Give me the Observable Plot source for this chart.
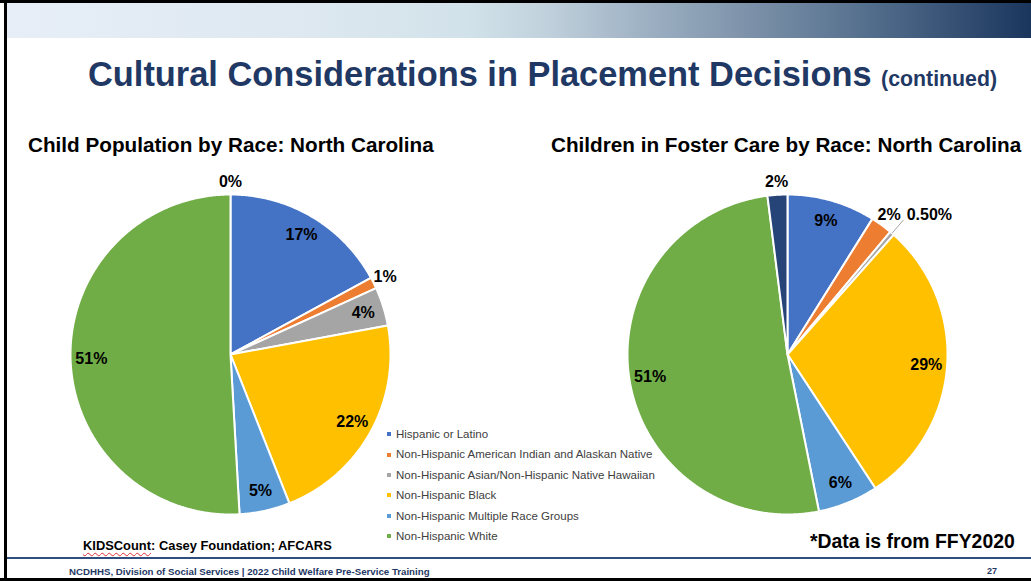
<!DOCTYPE html>
<html>
<head>
<meta charset="utf-8">
<script src="https://cdn.jsdelivr.net/npm/d3@7"></script>
<script src="https://cdn.jsdelivr.net/npm/@observablehq/plot@0.6"></script>
<style>
  html, body { margin: 0; padding: 0; background: #fff; }
  body { width: 1031px; height: 581px; position: relative; overflow: hidden;
         font-family: "Liberation Sans", Arial, sans-serif; }
  .abs { position: absolute; white-space: nowrap; }
  #header { left: 7px; top: 3px; width: 1024px; height: 35px;
    background: linear-gradient(to right, #e7eef7 0%, #dde8f0 30%, #d2e2ea 45%, #c3d3de 52%, #9fb2c4 62%, #7e93aa 72%, #546f8d 84%, #1b365d 100%); }
  #title { left: 88px; top: 55px; color: #1f3864; font-weight: bold; font-size: 34.4px; }
  #title span { font-size: 21.3px; }
  .sub { font-weight: bold; font-size: 20.7px; color: #000; top: 133px; }
  #legend { left: 387px; top: 424px; font-size: 11.5px; color: #404040; line-height: 20.4px; }
  #legend .row { display: flex; align-items: center; }
  #legend .sw { width: 4px; height: 4px; margin-right: 5px; }
  #src { left: 83px; top: 538px; font-weight: bold; font-size: 12.9px; color: #000; }
  #src u { text-decoration: underline wavy #e03030; text-decoration-thickness: 1px; text-underline-offset: 2px; }
  #note { left: 810px; top: 530px; font-weight: bold; font-size: 19.4px; color: #000; }
  #footer { left: 69px; top: 566px; font-weight: bold; font-size: 9.7px; color: #1f3864; }
  #page { left: 987px; top: 566px; font-weight: bold; font-size: 9px; color: #1f3864; }
  .plot { position: absolute; }
</style>
</head>
<body>
<div class="abs" style="left:0;top:0;width:1031px;height:3px;background:#000"></div>
<div class="abs" style="left:4px;top:0;width:3px;height:581px;background:#000"></div>
<div class="abs" style="left:0;top:578px;width:1031px;height:3px;background:#000"></div>
<div class="abs" id="header"></div>
<div class="abs" style="left:7px;top:557px;width:1024px;height:2px;background:#2e4f7e"></div>

<div class="abs" id="title">Cultural Considerations in Placement Decisions <span>(continued)</span></div>
<div class="abs sub" id="sub1" style="left:28px">Child Population by Race: North Carolina</div>
<div class="abs sub" id="sub2" style="left:551px">Children in Foster Care by Race: North Carolina</div>

<div id="pie1" class="plot" style="left:20px;top:154px"></div>
<div id="pie2" class="plot" style="left:577px;top:154px"></div>

<div class="abs" id="legend"></div>
<div class="abs" id="src"><u>KIDSCount</u>: Casey Foundation; AFCARS</div>
<div class="abs" id="note">*Data is from FFY2020</div>
<div class="abs" id="footer">NCDHHS, Division of Social Services | 2022 Child Welfare Pre-Service Training</div>
<div class="abs" id="page">27</div>

<script>
// ---- data ----
const categories = [
  "Hispanic or Latino",
  "Non-Hispanic American Indian and Alaskan Native",
  "Non-Hispanic Asian/Non-Hispanic Native Hawaiian",
  "Non-Hispanic Black",
  "Non-Hispanic Multiple Race Groups",
  "Non-Hispanic White",
  "Other / Unknown"
];
const legendCategories = categories.slice(0, 6);
const colors = ["#4472c4", "#ed7d31", "#a5a5a5", "#ffc000", "#5b9bd5", "#70ad47", "#264478"];

const childPopValues = [17.05, 1.15, 3.9, 21.9, 5.1, 50.9, 0];
const childPopLabels = ["17%", "1%", "4%", "22%", "5%", "51%", "0%"];

const fosterValues = [8.9, 2.2, 0.45, 29.2, 6.1, 51.15, 2.0];
const fosterLabels = ["9%", "2%", "0.50%", "29%", "6%", "51%", "2%"];

// ---- legend ----
const leg = document.getElementById("legend");
legendCategories.forEach((c, i) => {
  const r = document.createElement("div");
  r.className = "row";
  r.innerHTML = `<div class="sw" style="background:${colors[i]}"></div><div>${c}</div>`;
  leg.appendChild(r);
});

// ---- pies ----
const R = 160, W = 420, H = 400;
function pie(values, labels) {
  const total = d3.sum(values);
  const arcs = d3.pie().sort(null).value(d => d)(values);
  const pts = [], lab = [], leaders = [];
  arcs.forEach((a, i) => {
    const v = values[i];
    if (a.endAngle > a.startAngle) {
      pts.push({cat: categories[i], color: colors[i], x: 0, y: 0});
      const n = Math.max(2, Math.ceil((a.endAngle - a.startAngle) / (Math.PI / 360)));
      for (let k = 0; k <= n; k++) {
        const t = a.startAngle + (a.endAngle - a.startAngle) * k / n;
        pts.push({cat: categories[i], color: colors[i], x: Math.sin(t), y: Math.cos(t)});
      }
    }
    const mid = (a.startAngle + a.endAngle) / 2;
    const pct = v / total * 100;
    if (pct > 0 && pct < 1) {
      const r1 = 1.0, r2 = 1.11;
      leaders.push({x1: r1 * Math.sin(mid), y1: r1 * Math.cos(mid), x2: r2 * Math.sin(mid), y2: r2 * Math.cos(mid)});
      lab.push({x: r2 * Math.sin(mid) + 0.02, y: r2 * Math.cos(mid) + 0.03, text: labels[i], anchor: "start"});
    } else {
      const r = pct < 3 ? 1.08 : 0.87;
      lab.push({x: r * Math.sin(mid), y: r * Math.cos(mid), text: labels[i], anchor: "middle"});
    }
  });
  return Plot.plot({
    width: W, height: H, margin: 0,
    x: {domain: [-W / 2 / R, W / 2 / R], axis: null},
    y: {domain: [-H / 2 / R, H / 2 / R], axis: null},
    style: {background: "transparent", overflow: "visible", fontFamily: "'Liberation Sans', Arial, sans-serif"},
    marks: [
      Plot.line(pts, {x: "x", y: "y", z: "cat", fill: "color", stroke: "white", strokeWidth: 2, curve: "linear-closed"}),
      Plot.link(leaders, {x1: "x1", y1: "y1", x2: "x2", y2: "y2", stroke: "#a6a6a6", strokeWidth: 1}),
      Plot.text(lab.filter(d => d.anchor === "middle"), {x: "x", y: "y", text: "text", fontSize: 16, fontWeight: "bold", fill: "#000", textAnchor: "middle"}),
      Plot.text(lab.filter(d => d.anchor === "start"), {x: "x", y: "y", text: "text", fontSize: 16, fontWeight: "bold", fill: "#000", textAnchor: "start"})
    ]
  });
}
document.getElementById("pie1").appendChild(pie(childPopValues, childPopLabels));
document.getElementById("pie2").appendChild(pie(fosterValues, fosterLabels));
</script>
</body>
</html>
